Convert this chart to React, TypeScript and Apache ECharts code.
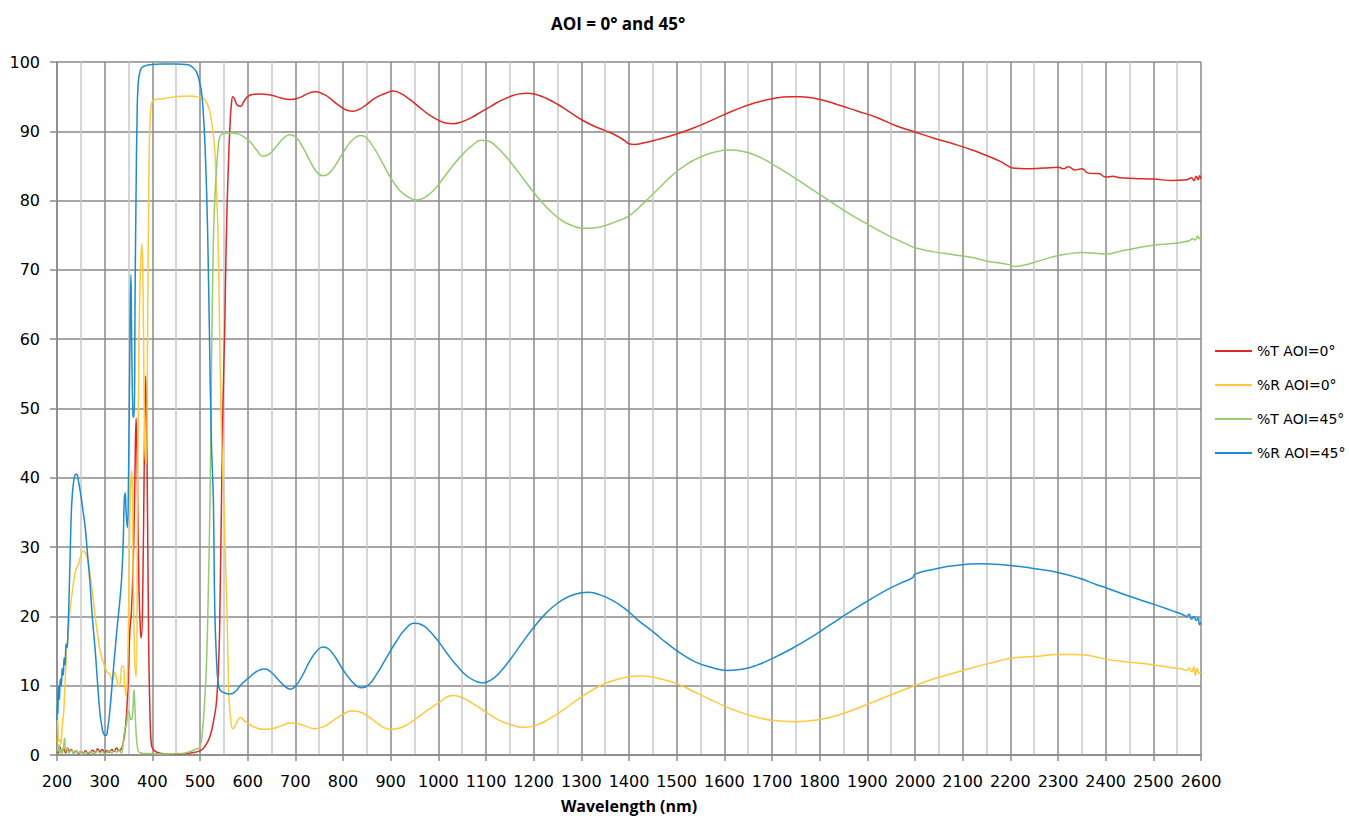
import React, { useEffect, useRef } from "react";
import * as echarts from "echarts";

const seriesNames = ["%T AOI=0°", "%R AOI=0°", "%T AOI=45°", "%R AOI=45°"];
const seriesColors = ["#dd2a26", "#ffc83d", "#93cd6e", "#1c8bd0"];
const xTicks = { min: 200, max: 2600, step: 100 };
const yTicks = { min: 0, max: 100, step: 10 };

const tAoi0: [number, number][] = [
  [200, 2.5], [203, 0.3], [206, 1.2], [210, 0.4], [214, 0.9], [218, 0.3], [222, 1.0], [226, 0.5], [230, 0.8], [235, 0.3],
  [240, 0.6], [245, 0.2], [250, 0.5], [255, 0.3], [260, 0.6], [265, 0.2], [270, 0.4], [275, 0.7], [280, 0.3], [285, 0.9],
  [290, 0.5], [295, 0.8], [300, 0.3], [305, 0.6], [310, 0.4], [315, 0.8], [320, 0.5], [325, 1.0], [330, 0.6], [335, 0.9],
  [338, 1.5], [342, 3], [346, 6], [350, 12], [353, 18], [356, 20.5], [360, 28], [363, 38], [366, 48.6], [369, 38],
  [372, 24], [375, 18], [377, 16.9], [380, 24], [383, 42], [386, 54.7], [389, 42], [392, 18], [395, 6], [398, 1.5],
  [402, 0.8], [410, 0.4], [420, 0.2], [440, 0.1], [460, 0.15], [480, 0.3], [500, 0.6], [510, 1.2], [521, 2.7], [530, 5.5],
  [535, 8], [540, 15], [542, 22], [545, 36], [548, 50], [552, 62], [555, 74], [559, 84], [563, 91], [566, 94],
  [569, 95], [573, 94.6], [578, 93.8], [585, 93.6], [592, 94.3], [600, 95], [610, 95.3], [626, 95.4], [650, 95.2], [670, 94.8],
  [689, 94.6], [710, 94.9], [725, 95.4], [741, 95.7], [755, 95.5], [770, 94.9], [790, 93.8], [810, 93.0], [821, 92.9], [835, 93.2],
  [850, 93.9], [870, 94.9], [890, 95.5], [905, 95.8], [920, 95.5], [940, 94.6], [960, 93.5], [980, 92.4], [1000, 91.6], [1015, 91.2],
  [1031, 91.1], [1050, 91.4], [1070, 92], [1090, 92.8], [1110, 93.6], [1130, 94.4], [1150, 95], [1170, 95.4], [1188, 95.5], [1205, 95.3],
  [1225, 94.8], [1250, 93.9], [1275, 92.8], [1300, 91.7], [1325, 90.8], [1350, 90.1], [1370, 89.5], [1390, 88.7], [1400, 88.2], [1410, 88.1],
  [1430, 88.3], [1460, 88.8], [1500, 89.6], [1540, 90.6], [1580, 91.8], [1620, 93], [1660, 94], [1700, 94.7], [1740, 95], [1760, 95],
  [1800, 94.6], [1840, 93.8], [1880, 92.9], [1920, 92], [1960, 90.8], [2000, 89.9], [2040, 89], [2080, 88.2], [2120, 87.3], [2150, 86.5],
  [2178, 85.7], [2195, 85.0], [2205, 84.7], [2230, 84.6], [2270, 84.7], [2300, 84.8], [2312, 84.6], [2322, 84.9], [2335, 84.4], [2350, 84.6],
  [2362, 84.0], [2375, 83.9], [2385, 83.9], [2400, 83.4], [2415, 83.5], [2430, 83.3], [2460, 83.2], [2500, 83.1], [2540, 82.9], [2570, 83.0],
  [2580, 83.3], [2585, 82.9], [2590, 83.5], [2594, 83.0], [2597, 83.6], [2600, 83.1],
];

const rAoi0: [number, number][] = [
  [200, 8], [202, 4], [204, 2], [206, 2.2], [208, 1.5], [210, 3], [212, 5], [214, 6.1], [216, 9], [218, 12],
  [220, 15.2], [223, 17], [226, 20], [230, 22.4], [235, 25], [240, 26.8], [245, 27.5], [250, 28.8], [255, 29.4], [260, 29.1],
  [265, 28], [269, 26.3], [275, 23], [280, 20], [285, 17.5], [290, 15.2], [295, 13.8], [300, 12.8], [305, 12], [311, 11.6],
  [316, 10.8], [321, 11.9], [325, 11], [329, 9.9], [333, 10.5], [336, 12.8], [339, 12.8], [342, 10], [345, 8.5], [348, 12],
  [351, 25], [354, 38], [357, 41], [360, 25], [363, 14], [366, 11.3], [369, 35], [372, 60], [375, 70], [378, 73.8],
  [381, 64], [384, 45], [387, 42], [390, 60], [393, 85], [396, 92.5], [400, 94.3], [420, 94.7], [451, 95], [480, 95.1],
  [500, 94.9], [506, 94.8], [515, 94], [521, 92.7], [527, 90], [531, 87.3], [535, 81], [538, 74.4], [541, 62], [544, 50],
  [547, 42], [550, 36.8], [553, 29], [556, 22.4], [559, 13], [561, 8], [565, 4.8], [569, 3.8], [575, 4.4], [580, 5.1],
  [585, 5.4], [592, 5.0], [600, 4.6], [615, 4.0], [633, 3.7], [650, 3.8], [670, 4.2], [690, 4.6], [705, 4.5], [720, 4.2],
  [740, 3.8], [760, 4.1], [780, 5.0], [800, 5.9], [820, 6.4], [840, 6.1], [860, 5.2], [880, 4.2], [900, 3.7], [920, 3.9],
  [940, 4.6], [960, 5.6], [980, 6.6], [1000, 7.5], [1030, 8.6], [1050, 8.3], [1075, 7.3], [1100, 6.2], [1125, 5.1], [1150, 4.4],
  [1180, 4.0], [1205, 4.3], [1230, 5.1], [1260, 6.4], [1300, 8.4], [1340, 10], [1380, 11], [1423, 11.4], [1460, 11.1], [1500, 10.3],
  [1540, 9], [1580, 7.7], [1620, 6.5], [1660, 5.6], [1700, 5.0], [1748, 4.8], [1790, 5.0], [1830, 5.6], [1870, 6.5], [1910, 7.6],
  [1950, 8.7], [1999, 10.0], [2040, 11], [2080, 11.8], [2120, 12.6], [2160, 13.3], [2205, 14.0], [2250, 14.2], [2300, 14.5], [2330, 14.5],
  [2370, 14.3], [2402, 13.8], [2450, 13.4], [2503, 13.0], [2540, 12.6], [2560, 12.4], [2570, 12.2], [2575, 12.6], [2580, 12.0], [2585, 12.7],
  [2588, 11.5], [2592, 12.5], [2596, 11.8], [2600, 12.0],
];

const tAoi45: [number, number][] = [
  [200, 2.5], [202, 0.5], [204, 1.5], [206, 0.3], [208, 0.8], [210, 0.2], [213, 0.8], [216, 2.4], [218, 0.5], [221, 1.0],
  [225, 0.3], [230, 0.7], [235, 0.2], [240, 0.6], [245, 0.3], [250, 0.5], [255, 0.2], [260, 0.4], [265, 0.3], [270, 0.5],
  [275, 0.2], [280, 0.4], [285, 0.6], [290, 0.3], [295, 0.5], [300, 0.2], [305, 0.4], [310, 0.6], [315, 0.3], [320, 0.7],
  [325, 0.4], [330, 0.8], [335, 0.3], [338, 1.2], [342, 3.6], [346, 4.5], [349, 6.3], [352, 6], [355, 5.1], [358, 5.3],
  [361.5, 9.4], [364, 6], [366, 3.2], [368, 1.5], [371, 0.5], [376, 0.3], [390, 0.2], [420, 0.15], [450, 0.2], [470, 0.3],
  [480, 0.5], [490, 0.8], [500, 1.2], [505, 3.5], [510, 8], [514, 14], [517, 22.4], [521, 36.8], [524, 55], [528, 74],
  [531, 80], [535, 85], [538, 87.5], [542, 89.3], [550, 89.7], [563, 89.8], [575, 89.7], [590, 89.3], [605, 88.5], [620, 87.2],
  [632, 86.4], [645, 86.7], [660, 87.8], [675, 89], [689, 89.5], [700, 89.2], [715, 87.8], [730, 85.8], [745, 84.1], [758, 83.6],
  [770, 83.9], [785, 85.2], [800, 86.9], [815, 88.4], [828, 89.2], [839, 89.4], [850, 89.0], [865, 87.6], [880, 85.8], [900, 83.3],
  [920, 81.4], [940, 80.4], [954, 80.1], [970, 80.4], [990, 81.5], [1010, 83.2], [1030, 85], [1050, 86.6], [1070, 87.9], [1090, 88.7],
  [1105, 88.6], [1120, 87.9], [1140, 86.5], [1160, 84.8], [1180, 83], [1200, 81.2], [1225, 79.2], [1250, 77.6], [1280, 76.4], [1314, 76.0],
  [1340, 76.2], [1370, 76.9], [1400, 77.8], [1430, 79.6], [1460, 81.6], [1490, 83.6], [1520, 85.2], [1550, 86.3], [1580, 87], [1610, 87.3],
  [1640, 87.1], [1670, 86.4], [1700, 85.3], [1740, 83.6], [1780, 81.8], [1820, 80], [1860, 78.2], [1900, 76.6], [1940, 75.1], [1980, 73.8],
  [2000, 73.2], [2040, 72.6], [2080, 72.2], [2120, 71.8], [2150, 71.3], [2178, 71.0], [2195, 70.8], [2209, 70.5], [2230, 70.7], [2260, 71.3],
  [2290, 71.9], [2320, 72.3], [2352, 72.5], [2380, 72.4], [2402, 72.3], [2430, 72.7], [2460, 73.1], [2503, 73.6], [2540, 73.8], [2560, 74],
  [2575, 74.2], [2583, 74.5], [2588, 74.3], [2593, 74.9], [2596, 74.5], [2600, 74.8],
];

const rAoi45: [number, number][] = [
  [200, 5], [201, 9], [202, 6], [203, 10], [205, 8], [207, 11], [209, 10], [211, 12.5], [213, 11.5], [215, 14],
  [217, 13], [219, 16], [221, 15.5], [223, 18], [225, 22], [228, 30], [231, 36.4], [235, 39.5], [238, 40.4], [241, 40.5],
  [245, 39.5], [250, 37.5], [255, 35], [259, 33], [264, 29], [269, 25], [274, 20], [280, 15.2], [285, 10.5], [290, 6.1],
  [294, 4.2], [297, 3.2], [300, 2.9], [303, 2.8], [306, 3.6], [311, 6.5], [316, 10.5], [322, 15.2], [327, 19], [332, 22.4],
  [336, 26], [339, 31], [341, 36.5], [343, 37.8], [345, 35], [347.5, 32.8], [350, 40], [353, 60], [355, 69.3], [357, 58],
  [359.5, 49], [361.5, 48.7], [364, 68], [366, 82], [368, 92], [370, 96.5], [374, 98.6], [380, 99.3], [395, 99.6], [420, 99.7],
  [450, 99.7], [475, 99.6], [485, 99.2], [493, 98.5], [500, 96.8], [503.5, 95.5], [507, 92.5], [510, 88.8], [514, 81], [517, 72],
  [520, 60], [524, 45], [528, 36.8], [531, 21], [535, 13.3], [538, 10.5], [542, 9.4], [550, 9.0], [563, 8.8], [575, 9.2],
  [584, 10.0], [600, 11.0], [620, 12.1], [636, 12.4], [650, 11.9], [665, 10.8], [680, 9.8], [690, 9.5], [700, 9.9], [715, 11.5],
  [730, 13.5], [745, 15], [758, 15.6], [770, 15.3], [785, 14], [800, 12.3], [815, 10.9], [830, 9.9], [840, 9.7], [855, 10.2],
  [870, 11.6], [890, 13.9], [910, 16.2], [930, 18.1], [950, 19], [965, 18.8], [980, 18], [1000, 16.4], [1020, 14.5], [1040, 12.8],
  [1060, 11.4], [1080, 10.6], [1093, 10.4], [1110, 10.8], [1130, 12], [1150, 13.7], [1175, 16.1], [1200, 18.4], [1225, 20.4], [1250, 21.9],
  [1275, 22.9], [1300, 23.4], [1315, 23.5], [1335, 23.2], [1360, 22.5], [1390, 21.2], [1420, 19.4], [1450, 17.8], [1480, 16.1], [1510, 14.6],
  [1540, 13.4], [1570, 12.7], [1607, 12.2], [1640, 12.4], [1670, 13], [1700, 13.9], [1740, 15.3], [1780, 16.9], [1820, 18.7], [1860, 20.5],
  [1900, 22.2], [1940, 23.8], [1970, 24.8], [1995, 25.6], [2000, 26.1], [2040, 26.8], [2080, 27.3], [2136, 27.6], [2178, 27.5], [2220, 27.2],
  [2260, 26.8], [2302, 26.3], [2345, 25.5], [2380, 24.6], [2402, 24.1], [2450, 22.9], [2503, 21.7], [2540, 20.8], [2560, 20.3], [2570, 20.0],
  [2575, 20.3], [2580, 19.6], [2585, 20.0], [2590, 19.4], [2594, 19.8], [2597, 18.8], [2600, 19.2],
];

const seriesData = [tAoi0, rAoi0, tAoi45, rAoi45];

const DARK = "#8a8a8a";
const LIGHT = "#c8c8c8";
const TICK_FONT = "DejaVu Sans";
const BOLD_FONT = "Open Sans";

export default function App() {
  const ref = useRef<HTMLDivElement>(null);

  useEffect(() => {
    if (!ref.current) return;
    const chart = echarts.init(ref.current, null, { renderer: "svg" });
    chart.setOption({
      animation: false,
      backgroundColor: "#ffffff",
      title: {
        text: "AOI = 0° and 45°",
        left: 551,
        top: 15,
        padding: 0,
        textStyle: { fontFamily: BOLD_FONT, fontWeight: "bold", fontSize: 17, color: "#000" },
      },
      legend: {
        orient: "vertical",
        left: 1215,
        top: 344,
        itemWidth: 37,
        itemHeight: 2,
        itemGap: 20,
        icon: "rect",
        padding: 0,
        data: seriesNames,
        textStyle: { fontFamily: TICK_FONT, fontSize: 14, color: "#000" },
      },
      grid: {
        left: 57,
        top: 62,
        width: 1144,
        height: 693,
        containLabel: false,
        outerBoundsMode: "none",
      },
      xAxis: {
        type: "value",
        min: xTicks.min,
        max: xTicks.max,
        interval: xTicks.step,
        name: "Wavelength (nm)",
        nameLocation: "middle",
        nameGap: 43,
        nameTextStyle: { fontFamily: BOLD_FONT, fontWeight: "bold", fontSize: 16, color: "#000" },
        axisLine: { show: true, lineStyle: { color: DARK, width: 1.5 } },
        axisTick: { show: true, length: 6, lineStyle: { color: DARK, width: 1.5 } },
        axisLabel: {
          fontFamily: TICK_FONT,
          fontSize: 16,
          color: "#000",
          margin: 18,
          formatter: (v: number) => String(v),
        },
        splitLine: { show: true, lineStyle: { color: DARK, width: 1.5 } },
        minorTick: { show: false, splitNumber: 2 },
        minorSplitLine: { show: true, lineStyle: { color: LIGHT, width: 1.5 } },
      },
      yAxis: {
        type: "value",
        min: yTicks.min,
        max: yTicks.max,
        interval: yTicks.step,
        axisLine: { show: true, lineStyle: { color: DARK, width: 1.5 } },
        axisTick: { show: true, length: 7, lineStyle: { color: DARK, width: 1.5 } },
        axisLabel: { fontFamily: TICK_FONT, fontSize: 16, color: "#000", margin: 17 },
        splitLine: { show: true, lineStyle: { color: DARK, width: 1.5 } },
      },
      series: seriesNames.map((name, i) => ({
        name,
        type: "line",
        data: seriesData[i],
        showSymbol: false,
        symbol: "none",
        smooth: 0.5,
        color: seriesColors[i],
        lineStyle: { color: seriesColors[i], width: 1.5 },
        emphasis: { disabled: true },
      })),
    });
    return () => chart.dispose();
  }, []);

  return (
    <div
      ref={ref}
      style={{ position: "fixed", left: 0, top: 0, width: 1349, height: 816 }}
    />
  );
}
